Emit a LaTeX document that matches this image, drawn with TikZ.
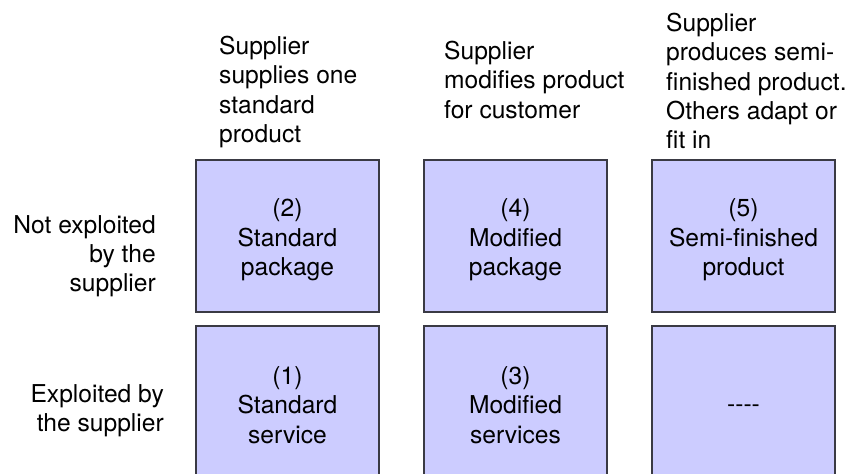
\documentclass[tikz,border=0pt]{standalone}
\usepackage{fontspec}
\setmainfont{TeX Gyre Heros}
\definecolor{cellfill}{HTML}{CCCCFF}
\definecolor{celledge}{HTML}{3A3A44}
\tikzset{
  txt/.style={font=\fontsize{24.6}{29.3}\selectfont, inner sep=0pt, text=black},
  head/.style={txt, align=left, anchor=north west},
  rowlab/.style={txt, align=right, anchor=north east},
  cell/.style={fill=cellfill, draw=celledge, line width=1.1pt},
  celltext/.style={txt, align=center},
}
\begin{document}
\begin{tikzpicture}[x=1pt,y=-1pt]
  \useasboundingbox (0,0) rectangle (852,474);
  \clip (0,0) rectangle (852,474);

  % column headings
  \node[head] (h1) at (219,36) {Supplier\\supplies one\\standard\\product};
  \node[head] (h2) at (444,41) {Supplier\\modifies product\\for customer};
  \node[head] (h3) at (666,13) {Supplier\\produces semi-\\finished product.\\Others adapt or\\fit in};

  % row headings
  \node[rowlab] (r1) at (156,215) {Not exploited\\by the\\supplier};
  \node[rowlab] (r2) at (164,384) {Exploited by\\the supplier};

  % cells: top row
  \draw[cell] (196,160) rectangle (379,312);
  \draw[cell] (424,160) rectangle (607,312);
  \draw[cell] (652,160) rectangle (835,312);
  % cells: bottom row (running off the lower edge)
  \draw[cell] (196,326) rectangle (379,478);
  \draw[cell] (424,326) rectangle (607,478);
  \draw[cell] (652,326) rectangle (835,478);

  % cell contents
  \node[celltext] (c2) at (287.5,240) {(2)\\Standard\\package};
  \node[celltext] (c4) at (515.5,240) {(4)\\Modified\\package};
  \node[celltext] (c5) at (743.5,240) {(5)\\Semi-finished\\product};
  \node[celltext] (c1) at (287.5,405) {(1)\\Standard\\service};
  \node[celltext] (c3) at (515.5,405) {(3)\\Modified\\services};
  \node[txt, anchor=base] (c6) at (743.5,412) {-{}-{}-{}-};
\end{tikzpicture}
\end{document}
